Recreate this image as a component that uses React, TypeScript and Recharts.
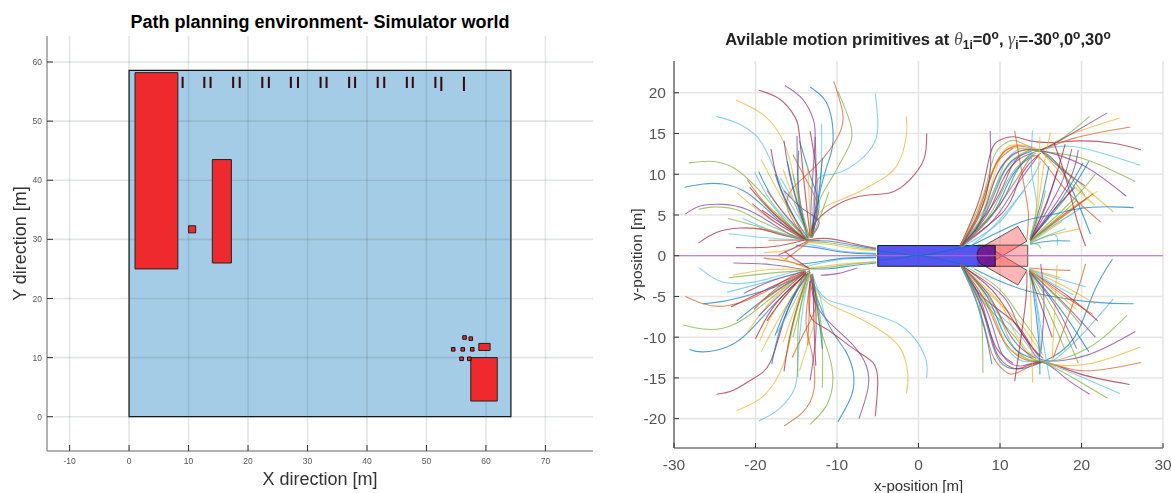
import { ComposedChart, CartesianGrid, Line, ReferenceArea, XAxis, YAxis } from 'recharts'

const FONT = '"Liberation Sans", Arial, sans-serif'

// left panel: world map
const worldTicksX = [-10, 0, 10, 20, 30, 40, 50, 60, 70]
const worldTicksY = [0, 10, 20, 30, 40, 50, 60]
const worldArea = [0, 64.2, 0, 58.6]
const obstacles = [
  [1, 8.2, 25, 58.2],
  [14, 17.2, 26, 43.5],
  [10, 11.2, 31.1, 32.3],
  [57.45, 61.9, 2.65, 10],
  [58.8, 60.7, 11.2, 12.4],
]
const tinyBlocks = [
  [56.4, 13.4],
  [57.45, 13.2],
  [54.5, 11.4],
  [56.1, 11.4],
  [57.7, 11.4],
  [55.9, 9.8],
  [57.2, 9.8],
]
const shortMarksX = [9, 12.65, 13.7, 17.5, 18.6, 22.4, 23.5, 27.2, 28.4, 32.2, 33.2, 37, 38, 41.8, 42.9, 46.7, 47.7, 51.5]
const longMarksX = [52.5, 56.3]

// right panel: motion primitives
const primTicksX = [-30, -20, -10, 0, 10, 20, 30]
const primTicksY = [-20, -15, -10, -5, 0, 5, 10, 15, 20]
const tones = ['#0072BD', '#D95319', '#EDB120', '#7E2F8E', '#77AC30', '#4DBEEE', '#A2142F']

// each row: tone, then x,y pairs
const leftUp: [number, number[]][] = [
  [6, [-27, 1.55, -24.8, 2.85, -21.9, 3.4, -19, 3.2, -16.2, 2.45, -13.3, 1.85]],
  [3, [-28.6, 5.1, -26.8, 6.1, -24, 6.3, -21.1, 5.7, -18.2, 4.1, -15.4, 2.45, -13.3, 1.9]],
  [4, [-27, 5.7, -25, 6, -22.2, 5.6, -19.5, 4.3, -15.4, 2.5, -13.3, 1.9]],
  [0, [-28.7, 8.4, -26.4, 8.8, -24, 8.8, -21.1, 7.75, -18.2, 5.3, -15.4, 2.9, -13.3, 1.9]],
  [4, [-28.2, 11.4, -25.6, 11.6, -23.1, 11, -20.7, 9.2, -18.2, 6.5, -15.4, 3.3, -13.3, 2]],
  [5, [-24.8, 17.1, -22.3, 16.3, -19.9, 14.7, -18.2, 11.8, -16.2, 7.3, -13.3, 2.45]],
  [2, [-22.4, 19.1, -19.5, 17.6, -17.4, 15.5, -15.8, 11.8, -14.6, 6.1, -13.3, 2.4]],
  [6, [-19.6, 20.3, -17, 19.2, -15.2, 17.1, -14.6, 14.7, -14, 8.6, -13.3, 2.4]],
  [3, [-16.4, 20.9, -14.2, 19.2, -12.9, 16.7, -12.7, 13.9, -13.1, 7.8, -13.3, 2.4]],
  [0, [-13.3, 20.7, -11.3, 18.8, -10.5, 15.5, -10.7, 12.7, -11.7, 9.4, -13.1, 3.2]],
  [1, [-10.4, 21.4, -9.3, 17.6, -9.8, 14.8, -12.4, 11.2, -15.5, 8.2, -16, 5.5, -14, 2.2]],
  [4, [-9.9, 20.2, -8.2, 15.5, -8.9, 12.7, -10.5, 9.8, -12.1, 6.9, -13.1, 3.7, -13.7, 2]],
  [5, [-5.3, 19.9, -5, 16.7, -5.4, 13.9, -7.6, 11.4, -10.5, 10, -12.5, 9, -13.1, 3]],
  [2, [-1.5, 17.1, -1.5, 14.7, -2.7, 11, -5.2, 9, -8, 7.5, -10.5, 6.5, -12.1, 5.3, -13.1, 2.9]],
  [6, [1, 15, 0.65, 11.8, -1.2, 9.2, -3.6, 7.7, -7.2, 7.3, -10.9, 5.7, -12.9, 3.7, -13.3, 2.2]],
  [5, [-11.9, 16.2, -12, 9, -13, 2.4]],
  [6, [-13.3, 15.3, -12.6, 11, -12.5, 7, -13.2, 2.4]],
  [3, [-12.7, 14.6, -12.6, 10, -13, 2.2]],
  [3, [-14.9, 14.7, -14.7, 8, -13.6, 2.2]],
  [0, [-14.6, 14.1, -13, 9, -12.2, 6, -13.2, 2.2]],
  [3, [-16.5, 14.1, -15.6, 9, -13.6, 2.2]],
  [0, [-14.7, 12.9, -14.7, 7, -13.6, 2.2]],
  [6, [-18.1, 13.1, -17, 8.5, -14, 2.2]],
  [1, [-15.4, 12.4, -13.6, 9, -12.4, 6, -13.2, 2.2]],
  [0, [-16.1, 11.6, -15, 7, -13.5, 2.2]],
  [2, [-19.3, 11.8, -17, 7.5, -13.8, 2.2]],
  [0, [-19.6, 10.3, -17.5, 6.5, -13.8, 2.2]],
  [5, [-20.1, 10.2, -17.6, 6, -13.8, 2.2]],
  [1, [-21, 9.3, -18, 5.5, -14, 2.2]],
  [6, [-20.7, 8.4, -17.6, 5, -14, 2.1]],
  [2, [-22.3, 7.75, -18.5, 4.7, -14, 2.1]],
  [4, [-23.4, 4.6, -19, 3.4, -14, 2]],
  [5, [-23.3, 2.7, -18.7, 2.2, -14, 1.9]],
  [6, [-22.4, 1, -18, 1.1, -14, 1.9]],
  [3, [-16.5, 8, -14, 5.6, -12.2, 4.2, -13.2, 2.3]],
  [5, [-16.9, 9.5, -15, 6, -13.6, 2.2]],
  [4, [-19.4, 7, -16.8, 4.6, -14, 2.1]],
  [3, [-20.4, 6.4, -17.4, 4, -14, 2]],
  [1, [-19.6, 3.4, -17, 2.6, -14, 1.9]],
  [2, [-16.6, 10.6, -15, 6, -13.5, 2.2]],
  [0, [-17.6, 10, -16, 6, -13.6, 2.2]],
  [4, [-15.4, 10, -14.4, 6, -13.4, 2.2]],
  [1, [-18.6, 8, -16.4, 5, -13.8, 2.1]],
  [6, [-19.2, 5.6, -16.6, 3.8, -13.8, 2]],
  [5, [-21.6, 4.6, -17.8, 3, -13.8, 1.9]],
  [2, [-13.6, 11, -13.4, 7, -13.2, 2.3]],
  [0, [-11.8, 12, -12.3, 7, -13, 2.3]],
  [4, [-11, 7.8, -12.2, 4.4, -13.1, 2.2]],
  [1, [-18.4, 1.9, -12.1, 1.9]],
  [6, [-13.3, 2, -11, 2.1, -8, 1.5, -5.2, 0.9]],
  [0, [-13.5, 1.8, -11, 1.8, -8, 1.3, -5.2, 0.8]],
  [4, [-13.5, 1.7, -11, 1.6, -8, 1.1, -5.2, 0.7]],
  [2, [-13.5, 1.6, -11, 1.4, -8, 0.9, -5.2, 0.6]],
  [5, [-14, 1.5, -12, 1.1, -9, 0.5, -5.2, 0.3]],
  [0, [-15, 1.3, -12, 0.9, -9, 0.4, -5.2, 0.2]],
  [2, [-19, 0.4, -16.5, 0.6, -14.5, 1.2, -13.3, 1.9]],
  [3, [-17.2, 0.1, -15.6, 0.8, -13.6, 1.8]],
  [1, [-16.4, -0.5, -15.2, 0.4, -13.5, 1.7]],
]

const leftDown: [number, number[]][] = [
  [5, [-26.9, -1.5, -24.4, -3.1, -21.5, -3.4, -18.7, -2.9, -15.4, -2, -13.3, -1.6]],
  [1, [-28.6, -5, -26.4, -5.9, -24, -6.2, -21.1, -5.5, -18.2, -4.1, -15, -2.2, -13.3, -1.6]],
  [0, [-26.4, -5.9, -24, -5.6, -20.3, -4.7, -16.2, -3.3, -13.3, -1.8]],
  [4, [-28.9, -8.5, -26.4, -9, -24, -8.9, -21.5, -7.8, -18.7, -5.7, -15.4, -3.1, -13.3, -1.8]],
  [0, [-28.1, -11.5, -26.4, -11.8, -23.5, -11.2, -21.1, -9.6, -18.2, -6.5, -15.4, -3.7, -13.3, -2]],
  [6, [-24.8, -17, -22.7, -16.5, -20.3, -15.1, -18.2, -13.1, -16.6, -8.2, -15, -4.5, -13.3, -2]],
  [2, [-22.3, -19, -19.5, -17.6, -17.4, -15.1, -16, -11.4, -15, -6.5, -13.3, -2]],
  [5, [-19.6, -20.3, -17.1, -18.8, -15.2, -16.3, -14.8, -13, -14.2, -6.5, -13.3, -2.2]],
  [1, [-16.5, -20.9, -14.2, -19.2, -12.8, -16.3, -13.1, -11.8, -13.8, -8.2, -13.2, -2.4]],
  [4, [-13.3, -20.7, -11.3, -18.4, -10.5, -15.1, -11.1, -11.8, -12.1, -8.6, -13.1, -2.8]],
  [0, [-9.9, -20.4, -8.2, -17.1, -8, -14.3, -8.9, -11.8, -10.5, -9.4, -12.1, -6.1, -13.2, -2.9]],
  [3, [-7.3, -20, -6.2, -16.3, -6.4, -13.5, -8, -11, -10.5, -8.6, -12.5, -6.1, -13.3, -3.1]],
  [6, [-5.3, -19.7, -5, -15.5, -5.6, -13.1, -8, -11.4, -11.3, -9, -13.3, -7.3, -13.3, -3.1]],
  [2, [-1.5, -16.9, -1.3, -14.7, -2.2, -11.4, -4.6, -9.2, -8, -7.3, -11.3, -5.7, -13.1, -3.3]],
  [5, [1, -15, 0.9, -12.7, -0.6, -10, -2.4, -8.4, -4.6, -7.5, -8.9, -6.1, -11.3, -5.3, -13.1, -3.3]],
  [4, [-11.8, -16.2, -11.9, -9, -13, -2.4]],
  [3, [-13.3, -15.3, -12.7, -11, -12.6, -7, -13.2, -2.4]],
  [6, [-12.6, -13.5, -12.8, -9, -13, -2.2]],
  [4, [-14.8, -14.9, -14.7, -8, -13.6, -2.2]],
  [2, [-14.6, -14.1, -13, -9, -12.4, -6, -13.2, -2.2]],
  [6, [-16.5, -14.2, -15.6, -9, -13.6, -2.2]],
  [0, [-18, -13.3, -16.8, -8.5, -14, -2.2]],
  [1, [-15.5, -12.5, -13.8, -9, -12.6, -6, -13.2, -2.2]],
  [4, [-16.1, -11.6, -15, -7, -13.5, -2.2]],
  [2, [-19.3, -11.8, -17, -7.5, -13.8, -2.2]],
  [2, [-19.5, -10.5, -17.5, -6.5, -13.8, -2.2]],
  [6, [-20, -10.2, -17.6, -6, -13.8, -2.2]],
  [2, [-21, -9.4, -18, -5.5, -14, -2.2]],
  [0, [-22.3, -8, -18.5, -5, -14, -2.1]],
  [6, [-23, -6.3, -18.8, -4.2, -14, -2]],
  [5, [-23.5, -4.5, -19, -3.3, -14, -1.9]],
  [4, [-23.3, -2.7, -18.7, -2.2, -14, -1.8]],
  [3, [-22.7, -0.9, -18, -1.1, -14, -1.7]],
  [2, [-22.8, -2.4, -18.4, -1.7, -14, -1.7]],
  [5, [-17.4, -9.5, -15.4, -6, -13.6, -2.2]],
  [3, [-19.6, -7.4, -17, -4.8, -14, -2.1]],
  [1, [-20.2, -6.6, -17.4, -4, -14, -2]],
  [2, [-16.6, -10.6, -15, -6, -13.5, -2.2]],
  [0, [-17.6, -9.8, -16, -6, -13.6, -2.2]],
  [4, [-15.4, -10, -14.4, -6, -13.4, -2.2]],
  [6, [-18.6, -8, -16.4, -5, -13.8, -2.1]],
  [1, [-19.2, -5.6, -16.6, -3.8, -13.8, -2]],
  [3, [-21.4, -4.6, -17.8, -3, -13.8, -1.9]],
  [1, [-13.6, -11, -13.4, -7, -13.2, -2.3]],
  [0, [-11.8, -11.4, -12.3, -7, -13, -2.3]],
  [5, [-11.4, -8, -12.2, -4.6, -13.1, -2.2]],
  [0, [-13.3, -1.6, -11, -1.6, -8, -1.2, -5.2, -0.9]],
  [4, [-13.5, -1.6, -11, -1.4, -8, -1, -5.2, -0.8]],
  [2, [-13.5, -1.5, -11, -1.2, -8, -0.9, -5.2, -0.7]],
  [5, [-14, -1.4, -12, -0.9, -9, -0.4, -5.2, -0.3]],
  [0, [-15, -1.1, -12, -0.7, -9, -0.3, -5.2, -0.2]],
  [3, [-12, -2.4, -10, -2.2, -7.5, -1.5]],
  [1, [-19, -0.3, -16.5, -0.6, -14.5, -1.1, -13.3, -1.6]],
  [2, [-17.2, 0, -15.6, -0.8, -13.6, -1.5]],
  [6, [-16.4, 0.5, -15.2, -0.4, -13.5, -1.5]],
]

const rightUp: [number, number[]][] = [
  [6, [5.1, 1.2, 7.6, 7.3, 8.8, 12.5, 10, 14.2, 11.7, 14.6, 13.7, 14.1, 16.6, 13.9, 19.8, 14.1, 23.9, 13.8, 27.3, 13]],
  [4, [5.1, 1.2, 7.8, 7, 9.2, 12, 10.5, 13.7, 12, 14.1, 15, 12.9, 20, 12, 26.6, 9.1]],
  [2, [5.1, 1.2, 8.3, 7, 9.8, 11.5, 11, 13.4, 12.5, 13.6, 15, 12.9, 19, 9.6, 23.9, 5.4]],
  [5, [5.1, 1.2, 8.8, 7, 10.4, 11, 11.7, 12.7, 13, 13.2, 15, 13, 19, 13.4, 27.2, 11.1]],
  [3, [5.1, 1.2, 9.3, 6.5, 11, 10, 12.2, 12, 13.5, 12.9, 15, 12.9, 20, 11.2, 25.5, 7.3]],
  [0, [5.1, 1.2, 9.8, 6, 11.6, 9.5, 13, 11.7, 15, 12.8, 18, 9.8, 21.1, 2.65]],
  [6, [5.1, 1.2, 10.5, 5.5, 12.2, 9, 13.6, 11.3, 15, 12.6]],
  [2, [5.1, 1.3, 7, 4.5, 8.8, 9.5, 10.6, 12.8, 12.6, 13.2, 15, 13, 18, 14.6, 24.7, 16.9]],
  [1, [5.1, 1.3, 7.2, 5, 9, 10.2, 10.8, 13, 13, 13.4, 15, 13, 19, 14.4, 26, 15.8]],
  [5, [5.1, 1.1, 8, 5, 9.6, 8.8, 11.4, 11.4, 13.4, 12.8, 15, 12.9]],
  [4, [5.1, 1.1, 7.4, 4, 9.2, 9, 11.2, 12, 13.2, 13, 15, 13, 17.8, 14.5, 21, 17.1]],
  [3, [5.1, 1.1, 7.6, 4.2, 9.4, 9.4, 11.4, 12.3, 13.4, 13, 15, 13, 18, 14.5, 23.1, 17.5]],
  [0, [5.1, 1.1, 9, 5, 10.8, 8.5, 12.4, 11, 14.2, 12.4]],
  [1, [5.1, 1, 8.6, 4.4, 11, 7.8, 12.8, 10.6, 14.6, 12.2, 17.6, 8.6, 22.4, 4.1]],
  [2, [5.2, 1.3, 8, 5.2, 10, 9.6, 11.8, 12, 13.6, 12.9, 15, 12.9]],
  [6, [5.2, 1.2, 8.4, 5, 10.2, 9, 12, 11.6, 14, 12.6]],
  [4, [5.2, 1.2, 8.6, 4.8, 10.6, 8.6, 12.4, 11.2, 14.4, 12.6]],
  [0, [5.2, 1.2, 7.8, 4.4, 9.8, 8.8, 11.4, 11.6, 13.8, 12.8]],
  [3, [5.2, 1.1, 9, 4.2, 11.4, 7.6, 13, 10, 14.8, 12.4]],
  [1, [5.2, 1.2, 7.2, 4.4, 8.4, 8, 9.6, 11.4, 11.6, 13.2]],
  [5, [5.2, 1, 9.6, 3.8, 12, 6.8, 14, 9.6, 15, 11.6]],
  [5, [6.4, 1.2, 9, 3.4, 11.8, 6.6, 13, 8]],
  [4, [15, 12.9, 18, 10.4, 20.4, 7.4]],
  [2, [15, 12.9, 18, 9.6, 21.6, 6.2]],
  [3, [15, 12.9, 17.6, 10.6, 20.4, 8.6]],
  [3, [8.8, 15.3, 8.8, 10.5, 7.8, 6, 5.4, 1.4]],
  [1, [11.8, 15.3, 13.1, 7.8, 13.5, 4.9, 13.3, 2]],
  [5, [14, 15.4, 13.9, 10.2, 14.5, 6.1, 13.7, 2.4]],
  [2, [14.9, 14.6, 14.7, 9.8, 14.5, 6, 13.7, 2]],
  [2, [16.2, 15.1, 15.3, 10.6, 14.3, 2.9]],
  [6, [18, 13.7, 16.6, 9, 14.9, 4.5, 13.7, 2]],
  [3, [18.8, 13.1, 17.4, 8.6, 13.7, 2]],
  [3, [19.6, 13, 18.2, 8.6, 13.7, 2]],
  [0, [20.9, 11.6, 18.2, 7.3, 13.7, 2]],
  [0, [20.2, 11.4, 17.6, 7, 13.7, 1.9]],
  [4, [21.7, 10, 19, 6.9, 13.7, 1.9]],
  [2, [21.96, 7.9, 18.6, 5.7, 13.7, 1.8]],
  [1, [21.4, 7.6, 18, 5, 13.7, 1.8]],
  [5, [20.2, 6, 17, 4, 13.7, 1.7]],
  [1, [20.6, 7, 17.8, 5, 13.7, 1.8]],
  [4, [19.4, 6.8, 17, 4.6, 13.7, 1.8]],
  [6, [19.2, 8.4, 16.6, 5.6, 13.7, 1.9]],
  [3, [17, 10.4, 15.6, 6, 13.7, 2]],
  [0, [16, 11, 15, 6.4, 13.7, 2]],
  [4, [15.6, 8, 14.8, 5, 13.7, 2]],
  [5, [19, 5.2, 16.4, 3.6, 13.7, 1.7]],
  [2, [17.6, 4.2, 15.8, 3, 13.7, 1.6]],
  [0, [26.4, 5.9, 23.9, 6, 19.8, 5.8, 15.8, 4.9, 12.5, 4.1, 6.4, 1.2]],
  [6, [16.6, 13.9, 18, 9.8, 19.4, 4.5, 20.5, 1.2]],
  [0, [18.6, 1.8, 16.2, 1.8, 13.7, 1.4]],
  [5, [17, 1.2, 16.6, 2.6, 13.7, 1.5]],
  [2, [19.8, 3.3, 16.6, 2.6, 13.7, 1.6]],
  [5, [18.1, 3.3, 15.6, 2.4, 13.7, 1.6]],
  [4, [15, 0.9, 14.6, 1.4, 13.7, 1.5]],
  [0, [-5, 0.55, -2, 0.25, 0, 0, 3, 0.5, 6.8, 1.3]],
]

const rightDown: [number, number[]][] = [
  [0, [23.8, -0.4, 21.5, -4.5, 19, -10.2, 15.3, -13, 12.1, -13.9, 10, -13, 8.8, -10, 7.4, -5.4, 5.2, -1.2]],
  [1, [5.2, -1.2, 7.6, -7, 9, -12, 10.4, -14, 12, -14.4, 15.3, -13.1, 19.8, -14.1, 27.3, -13.1]],
  [6, [5.2, -1.2, 8, -7, 9.4, -11.5, 10.8, -13.4, 12.6, -13.8, 15.3, -13.1, 19.8, -14.5, 25.9, -15.8]],
  [3, [5.2, -1.2, 8.3, -6.5, 9.8, -11, 11, -13, 12.8, -13.5, 15.3, -13.1, 18, -15, 21, -17]],
  [5, [5.2, -1.2, 8.8, -6.5, 10.4, -10.4, 11.8, -12.4, 13.2, -13, 15.3, -13.1, 19.8, -14.8, 24.7, -16.9]],
  [4, [5.2, -1.2, 9.2, -6, 11, -10, 12.4, -12, 13.6, -12.8, 15.3, -13.1, 19, -15, 23.2, -17.5]],
  [2, [5.2, -1.2, 9.8, -5.6, 11.6, -9, 13, -11.2, 15.3, -13, 20.7, -13.3, 27.2, -11.2]],
  [3, [5.2, -1.2, 10.4, -5, 12.2, -8.6, 13.6, -11, 15.3, -12.8, 20.7, -12.2, 26.6, -9.3]],
  [4, [5.2, -1.1, 7, -4.5, 11, -9, 13, -11.5, 15.3, -13, 20.7, -11.4, 25.6, -7.3]],
  [5, [5.2, -1.1, 7.4, -4.8, 11.4, -8.6, 13.4, -11, 15.3, -13, 17.4, -12.2, 20.7, -9, 23.9, -5.3]],
  [6, [5.2, -1.1, 7.8, -5, 11.8, -8.2, 13.8, -11, 15.3, -12.6]],
  [2, [5.2, -1, 8.6, -4.6, 12.2, -8, 14, -10.4, 15.3, -12.2]],
  [1, [5.2, -1.2, 8, -5.2, 10, -9.6, 11.8, -12, 13.6, -12.9, 15.3, -13]],
  [0, [5.2, -1.2, 8.4, -5, 10.2, -9, 12, -11.6, 14, -12.6]],
  [3, [5.2, -1.2, 8.6, -4.8, 10.6, -8.6, 12.4, -11.2, 14.4, -12.6]],
  [2, [5.2, -1.2, 7.8, -4.4, 9.8, -8.8, 11.4, -11.6, 13.8, -12.8]],
  [6, [5.2, -1.1, 9, -4.2, 11.4, -7.6, 13, -10, 14.8, -12.4]],
  [3, [5.2, -1.2, 7.2, -4.4, 8.4, -8, 9.6, -11.4, 11.6, -13.2]],
  [4, [5.2, -1, 9.6, -3.8, 12, -6.8, 14, -9.6, 15, -11.6]],
  [0, [6.8, -1.6, 13.3, -4.3, 21.5, -5.7, 26.4, -5.9]],
  [4, [7.9, -14.4, 7.8, -8.6, 7.2, -5, 5.5, -1.6]],
  [0, [9, -13.3, 8, -8.6, 6.2, -3, 5.4, -1.4]],
  [5, [7.9, -8.6, 6.8, -4.6, 5.3, -1.4]],
  [6, [11.8, -15.4, 13.1, -6.1, 13.3, -2]],
  [2, [14, -15.6, 13.9, -10, 13.7, -2.4]],
  [0, [14.9, -14.6, 14.7, -9.8, 13.8, -2]],
  [5, [16.1, -15.2, 15.3, -10.6, 13.9, -2]],
  [5, [20.5, -3.8, 17, -2.8, 13.6, -1.7]],
  [2, [21.7, -5.9, 18, -3.8, 13.6, -1.7]],
  [6, [22, -8, 18.4, -5, 13.6, -1.8]],
  [3, [21.7, -10, 18, -6, 13.6, -1.8]],
  [0, [20.9, -11.8, 17.6, -6.8, 13.6, -1.8]],
  [4, [19.6, -13.2, 17, -7.4, 13.6, -1.9]],
  [1, [18.6, -1.8, 16, -1.7, 13.6, -1.5]],
  [2, [17.4, -2.7, 15.6, -2.2, 13.6, -1.6]],
  [1, [20.5, -1, 19.4, -4.6, 16.5, -12.6]],
  [2, [17, -1.1, 16.4, -12.8]],
  [3, [15, -1, 15.4, -6, 15, -12]],
  [3, [19.4, -11.4, 17, -6.5, 13.6, -1.9]],
  [4, [18, -11.6, 16, -7, 13.6, -2]],
  [5, [15, -12.4, 14.6, -6.8, 13.6, -2.2]],
  [6, [16.4, -10, 15, -6, 13.6, -2.1]],
  [1, [21.4, -7.2, 18, -5, 13.6, -1.8]],
  [4, [20, -8.6, 17.4, -5.6, 13.6, -1.8]],
  [2, [19.4, -6.6, 16.8, -4.4, 13.6, -1.7]],
  [5, [19, -4.8, 16.4, -3.4, 13.6, -1.6]],
  [0, [-5, -0.55, -2, -0.25, 0, 0, 3, -0.5, 6.8, -1.4]],
]

const axisTrace = [-30, 0, 30, 0]
const bodyBox = [-5, 9.4, -1.3, 1.25]
const hitchOutline = [7.2, 0.4, 7.6, 1, 8.3, 1.25, 9.4, 1.25, 9.4, -1.3, 8.3, -1.3, 7.6, -1, 7.2, -0.4]
const trailerStraight = [7.3, 1.3, 13.4, 1.3, 13.4, -1.3, 7.3, -1.3]
const trailerUp = [8.1, 1.25, 12.2, 3.6, 13.3, 1.8, 9, -0.8]
const trailerDown = [8.1, -1.25, 12.2, -3.6, 13.3, -1.8, 9, 0.8]

const toPoints = (flat: number[]) => {
  const pts: { x: number; y: number }[] = []
  for (let i = 0; i < flat.length; i += 2) pts.push({ x: flat[i], y: flat[i + 1] })
  return pts
}

// polygon placed through the bounding box the axes give us
function polygonArea(flat: number[], fill: string, stroke: string, key: string) {
  const pts = toPoints(flat)
  const xs = pts.map((p) => p.x)
  const ys = pts.map((p) => p.y)
  const x1 = Math.min(...xs)
  const x2 = Math.max(...xs)
  const y1 = Math.min(...ys)
  const y2 = Math.max(...ys)
  const shape = (props: any) => {
    const d = pts
      .map((p) => {
        const px = props.x + ((p.x - x1) / (x2 - x1)) * props.width
        const py = props.y + ((y2 - p.y) / (y2 - y1)) * props.height
        return `${px},${py}`
      })
      .join(' ')
    return <polygon points={d} fill={fill} stroke={stroke} strokeWidth={0.8} />
  }
  return <ReferenceArea key={key} x1={x1} x2={x2} y1={y1} y2={y2} shape={shape} />
}

const makeXTick = (len: number, gap: number, size: number, color: string) => (props: any) => (
  <g>
    <line x1={props.x} x2={props.x} y1={props.y} y2={props.y - len} stroke="#333" strokeWidth={1} />
    <text x={props.x} y={props.y + gap} textAnchor="middle" fontSize={size} fontFamily={FONT} fill={color}>
      {props.payload.value}
    </text>
  </g>
)

const makeYTick = (len: number, gap: number, size: number, color: string) => (props: any) => (
  <g>
    <line x1={props.x} x2={props.x + len} y1={props.y} y2={props.y} stroke="#333" strokeWidth={1} />
    <text x={props.x - gap} y={props.y + size * 0.36} textAnchor="end" fontSize={size} fontFamily={FONT} fill={color}>
      {props.payload.value}
    </text>
  </g>
)

const topTick = (props: any) => <line x1={props.x} x2={props.x} y1={props.y} y2={props.y + 4} stroke="#444" />
const rightTick = (props: any) => <line x1={props.x} x2={props.x - 4} y1={props.y} y2={props.y} stroke="#444" />

function WorldChart() {
  return (
    <ComposedChart width={600} height={493} margin={{ top: 36, right: 7, bottom: 0, left: 0 }}>
      <ReferenceArea zIndex={-200} x1={worldArea[0]} x2={worldArea[1]} y1={worldArea[2]} y2={worldArea[3]} fill="#a5cce6" fillOpacity={1} stroke="#111" strokeWidth={1.2} />
      <CartesianGrid syncWithTicks stroke="rgba(60,70,80,0.14)" strokeWidth={1.6} />
      <XAxis
        type="number"
        dataKey="x"
        domain={[-13.8, 78]}
        ticks={worldTicksX}
        interval={0}
        height={42}
        tickLine={false}
        tickSize={0}
        tickMargin={0}
        axisLine={{ stroke: '#999', strokeWidth: 1.5 }}
        tick={makeXTick(6, 13, 8.5, '#555')}
        allowDataOverflow
        label={{ value: 'X direction [m]', position: 'insideBottom', offset: 8, fontSize: 18, fontFamily: FONT, fill: '#333' }}
      />
      <YAxis
        type="number"
        domain={[-5.8, 64.4]}
        ticks={worldTicksY}
        interval={0}
        width={47}
        tickLine={false}
        tickSize={0}
        tickMargin={0}
        axisLine={{ stroke: '#999', strokeWidth: 1.5 }}
        tick={makeYTick(6, 5, 8.5, '#555')}
        allowDataOverflow
        label={{ value: 'Y direction [m]', angle: -90, position: 'insideLeft', offset: 20, fontSize: 18, fontFamily: FONT, fill: '#333', style: { textAnchor: 'middle' } }}
      />
      {obstacles.map((o, i) => (
        <ReferenceArea key={`o${i}`} x1={o[0]} x2={o[1]} y1={o[2]} y2={o[3]} fill="#ee2a2e" fillOpacity={1} stroke="#222" strokeWidth={1} />
      ))}
      {tinyBlocks.map((b, i) => (
        <ReferenceArea key={`b${i}`} x1={b[0] - 0.3} x2={b[0] + 0.3} y1={b[1] - 0.3} y2={b[1] + 0.3} fill="#ee2a2e" fillOpacity={1} stroke="#111" strokeWidth={1} />
      ))}
      {shortMarksX.map((x) => (
        <ReferenceArea key={`s${x}`} x1={x - 0.17} x2={x + 0.17} y1={55.6} y2={57.5} fill="#36080f" fillOpacity={1} stroke="none" />
      ))}
      {longMarksX.map((x) => (
        <ReferenceArea key={`l${x}`} x1={x - 0.17} x2={x + 0.17} y1={55.1} y2={57.5} fill="#36080f" fillOpacity={1} stroke="none" />
      ))}
    </ComposedChart>
  )
}

function PrimitivesChart() {
  const groups = [leftUp, leftDown, rightUp, rightDown]
  return (
    <ComposedChart width={551} height={493} margin={{ top: 61, right: 8, bottom: 0, left: 0 }}>
      <CartesianGrid syncWithTicks stroke="#e6e6e6" strokeWidth={1.6} />
      <XAxis
        type="number"
        dataKey="x"
        domain={[-30, 30]}
        ticks={primTicksX}
        interval={0}
        height={45}
        tickLine={false}
        tickSize={0}
        tickMargin={0}
        axisLine={{ stroke: '#777', strokeWidth: 1.6 }}
        tick={makeXTick(5, 22, 15.5, '#555')}
        allowDataOverflow
        label={{ value: 'x-position [m]', position: 'insideBottom', offset: 2, fontSize: 15, fontFamily: FONT, fill: '#333' }}
      />
      <XAxis xAxisId="top" orientation="top" type="number" dataKey="x" domain={[-30, 30]} ticks={primTicksX} interval={0} height={0} tickLine={false} tickSize={0} tickMargin={0} axisLine={{ stroke: '#999', strokeWidth: 1.4 }} tick={topTick} />
      <YAxis
        type="number"
        domain={[-23.6, 23.9]}
        ticks={primTicksY}
        interval={0}
        width={54}
        tickLine={false}
        tickSize={0}
        tickMargin={0}
        axisLine={{ stroke: '#777', strokeWidth: 1.6 }}
        tick={makeYTick(5, 8, 15.5, '#555')}
        allowDataOverflow
        label={{ value: 'y-position [m]', angle: -90, position: 'insideLeft', offset: 16, fontSize: 15.5, fontFamily: FONT, fill: '#333', style: { textAnchor: 'middle' } }}
      />
      <YAxis yAxisId="right" orientation="right" type="number" domain={[-23.6, 23.9]} ticks={primTicksY} interval={0} width={0} tickLine={false} tickSize={0} tickMargin={0} axisLine={{ stroke: '#777', strokeWidth: 1.6 }} tick={rightTick} />
      <Line data={toPoints(axisTrace)} dataKey="y" type="linear" stroke="#B070C4" strokeWidth={1} dot={false} isAnimationActive={false} legendType="none" />
      {groups.flatMap((group, g) =>
        group.map(([tone, xy], i) => (
          <Line
            key={`${g}-${i}`}
            data={toPoints(xy)}
            dataKey="y"
            type="natural"
            stroke={tones[tone]}
            strokeOpacity={0.68}
            strokeWidth={1.1}
            dot={false}
            isAnimationActive={false}
            legendType="none"
          />
        )),
      )}
      {polygonArea(trailerUp, 'rgba(250,80,80,0.42)', '#333', 'tu')}
      {polygonArea(trailerDown, 'rgba(250,80,80,0.42)', '#333', 'td')}
      {polygonArea(trailerStraight, 'rgba(250,80,80,0.42)', '#333', 'ts')}
      <ReferenceArea x1={bodyBox[0]} x2={bodyBox[1]} y1={bodyBox[2]} y2={bodyBox[3]} fill="#2a2aee" fillOpacity={0.8} stroke="#222" strokeWidth={1} />
      {polygonArea(hitchOutline, 'rgba(120,20,130,0.8)', '#222', 'hitch')}
    </ComposedChart>
  )
}

export default function App() {
  return (
    <div style={{ position: 'absolute', left: 0, top: 0, width: 1171, height: 493, background: '#fff', overflow: 'hidden' }}>
      <div style={{ position: 'absolute', left: 0, top: 0, filter: 'blur(0.25px)' }}>
        <WorldChart />
      </div>
      <div style={{ position: 'absolute', left: 620, top: 0, filter: 'blur(0.5px)' }}>
        <PrimitivesChart />
      </div>
      <div style={{ position: 'absolute', left: 0, top: 12, width: 640, textAlign: 'center', font: `bold 18px ${FONT}`, color: '#000' }}>
        Path planning environment- Simulator world
      </div>
      <div style={{ position: 'absolute', left: 620, top: 28, width: 596, textAlign: 'center', font: `bold 16.5px ${FONT}`, color: '#222', filter: 'blur(0.4px)', whiteSpace: 'nowrap', lineHeight: '22px' }}>
        Avilable motion primitives at{' '}
        <span style={{ fontFamily: '"Liberation Serif", serif', fontStyle: 'italic', fontWeight: 400, fontSize: 18, color: '#555' }}>θ</span>
        <sub style={{ fontSize: 12, lineHeight: 0 }}>1i</sub>=0<sup style={{ fontSize: 12, lineHeight: 0 }}>o</sup>,{' '}
        <span style={{ fontFamily: '"Liberation Serif", serif', fontStyle: 'italic', fontWeight: 400, fontSize: 18, color: '#555' }}>γ</span>
        <sub style={{ fontSize: 12, lineHeight: 0 }}>i</sub>=-30<sup style={{ fontSize: 12, lineHeight: 0 }}>o</sup>,0<sup style={{ fontSize: 12, lineHeight: 0 }}>o</sup>,30<sup style={{ fontSize: 12, lineHeight: 0 }}>o</sup>
      </div>
    </div>
  )
}
